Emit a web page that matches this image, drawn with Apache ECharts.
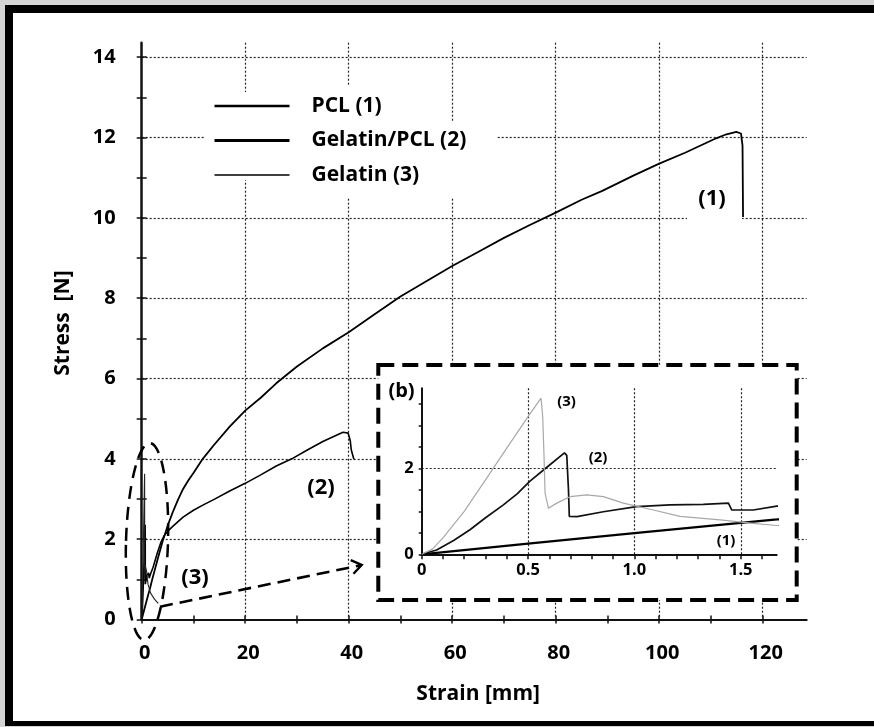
<!DOCTYPE html>
<html><head><meta charset="utf-8">
<script src="https://cdn.jsdelivr.net/npm/echarts@6/dist/echarts.min.js"></script>
<style>
html,body{margin:0;padding:0;background:#d4d4d4;}
#frame{position:absolute;left:5px;top:5px;width:869px;height:721px;box-sizing:border-box;background:#fff;border-top:8px solid #000;border-left:8px solid #000;border-bottom:5px solid #000;}
#chart{position:absolute;left:0;top:0;width:874px;height:727px;}
</style></head><body>
<div id="frame"></div><div id="chart"></div>
<script>
// ---------- data (strain in mm, stress in N) ----------
const seriesNames = ['PCL (1)', 'Gelatin/PCL (2)', 'Gelatin (3)'];

const pclStrain = [0,0.5,1,1.5,1.67,2,3,4,5,6,7,8,9,10,11.8,14,17,20,23,26,30,35,40,45,50,55,60,65,70,75,80,85,89,95,100,105,111,113,114.9,115.8,116.1,116.2];
const pclStress = [0,0.25,0.49,0.73,0.81,0.98,1.46,1.93,2.33,2.67,2.98,3.25,3.46,3.65,4.0,4.35,4.8,5.2,5.52,5.88,6.3,6.75,7.15,7.6,8.04,8.42,8.8,9.15,9.5,9.82,10.13,10.45,10.67,11.05,11.35,11.62,11.98,12.08,12.14,12.1,11.8,10.02];

const gpStrain = [0,0.07,0.15,0.227,0.3,0.384,0.45,0.509,0.59,0.671,0.682,0.69,0.694,0.73,0.854,1.01,1.168,1.324,1.442,1.458,1.559,1.669,2.2,3,3.7,4.4,5.2,6,8,10,12,14,17,20,23,26,29,32,35,37,38.9,39.9,40.3,40.5,41.0];
const gpStress = [0,0.1,0.32,0.57,0.85,1.15,1.41,1.7,2.03,2.36,2.3,1.5,0.88,0.876,0.99,1.11,1.15,1.16,1.19,1.03,1.03,1.12,1.3,1.65,1.92,2.1,2.22,2.32,2.55,2.72,2.86,2.99,3.2,3.39,3.6,3.82,4.0,4.22,4.43,4.55,4.66,4.64,4.45,4.22,3.99];

const gelStrain = [0,0.05,0.1,0.2,0.3,0.4,0.5,0.561,0.569,0.575,0.58,0.596,0.635,0.697,0.776,0.854,0.948,1.089,1.215,1.403,1.559,1.669,2.0,2.5,3.2];
const gelStress = [0,0.12,0.38,1.0,1.73,2.47,3.2,3.63,3.2,2.3,1.42,1.07,1.19,1.34,1.38,1.34,1.19,1.03,0.88,0.8,0.72,0.67,0.6,0.5,0.4];

// ---------- tick values ----------
const mainXTicks = [0,10,20,30,40,50,60,70,80,90,100,110,120];
const mainYTicks = [0,1,2,3,4,5,6,7,8,9,10,11,12,13,14];
const insetXTicks = [0,0.1,0.2,0.3,0.4,0.5,0.6,0.7,0.8,0.9,1.0,1.1,1.2,1.3,1.4,1.5,1.6];
const insetYTicks = [0,0.5,1,1.5,2,2.5,3,3.5];

const pairs = (xs, ys) => xs.map((x, i) => [x, ys[i]]);
const FONT = 'Open Sans';
const INK = '#000';

const chart = echarts.init(document.getElementById('chart'));

const dotted = { type: [2, 2], color: '#222', width: 1.2 };
const labelFont = { fontFamily: FONT, fontWeight: 'bold', color: INK };

function tickAxis(base, values, inside, len, extra) {
  return Object.assign({}, base, {
    axisLine: { show: false },
    axisLabel: { show: false },
    splitLine: { show: false },
    axisTick: { show: true, inside: inside, length: len, customValues: values,
                lineStyle: { color: '#111', width: 1.5 } }
  }, extra || {});
}

const mainX = { type: 'value', gridIndex: 0, min: 0, max: 128.5, position: 'bottom' };
const mainY = { type: 'value', gridIndex: 0, min: 0, max: 14.36, position: 'left' };
const insX = { type: 'value', gridIndex: 1, min: 0, max: 1.669, position: 'bottom', z: 5 };
const insY = { type: 'value', gridIndex: 1, min: 0, max: 3.86, position: 'left', z: 5 };

const hiddenSymbol = { opacity: 0, color: 'transparent', borderWidth: 0 };

const option = {
  animation: false,
  grid: [
    { left: 141.7, top: 42.7, width: 665, height: 576.8 },
    { left: 421.7, top: 388.3, width: 355, height: 166 }
  ],
  legend: {
    left: 213, top: 94, orient: 'vertical', padding: 0,
    itemWidth: 75, itemHeight: 14, itemGap: 10.5, selectedMode: false, z: 7,
    textStyle: { fontFamily: FONT, fontWeight: 'bold', fontSize: 21, color: INK, lineHeight: 24, padding: [0, 0, 0, 17] },
    data: [
      { name: seriesNames[0], itemStyle: hiddenSymbol, lineStyle: { color: INK, width: 2.7 } },
      { name: seriesNames[1], itemStyle: hiddenSymbol, lineStyle: { color: INK, width: 3 } },
      { name: seriesNames[2], itemStyle: hiddenSymbol, lineStyle: { color: INK, width: 1.7 } }
    ]
  },
  xAxis: [
    Object.assign({}, mainX, {
      interval: 20,
      axisLine: { lineStyle: { color: '#111', width: 2 } },
      axisTick: { show: false },
      axisLabel: Object.assign({ fontSize: 20, margin: 24, padding: [0, 0, 0, 6], showMaxLabel: false }, labelFont),
      splitLine: { show: true, lineStyle: dotted, showMinLine: false, showMaxLine: false },
      name: 'Strain [mm]', nameLocation: 'middle', nameGap: 64,
      nameTextStyle: { fontFamily: FONT, fontWeight: 'bold', fontSize: 21, color: INK, padding: [0, 0, 0, 8] }
    }),
    tickAxis(mainX, mainXTicks, false, 4, { interval: 10 }),
    tickAxis(mainX, mainXTicks, true, 4, { interval: 10 }),
    Object.assign({}, insX, {
      interval: 0.5,
      axisLine: { lineStyle: { color: '#111', width: 2 } },
      axisTick: { show: false },
      axisLabel: Object.assign({ fontSize: 16.5, margin: 7, showMaxLabel: false,
        formatter: v => (v === 0 ? '0' : v.toFixed(1)) }, labelFont),
      splitLine: { show: true, lineStyle: dotted, showMinLine: false, showMaxLine: false }
    }),
    tickAxis(insX, insetXTicks, false, 5, { interval: 0.1 })
  ],
  yAxis: [
    Object.assign({}, mainY, {
      interval: 2,
      axisLine: { lineStyle: { color: '#111', width: 2.5 } },
      axisTick: { show: false },
      axisLabel: Object.assign({ fontSize: 20, margin: 26, padding: [18, 0, 0, 0], showMaxLabel: false }, labelFont),
      splitLine: { show: true, lineStyle: dotted, showMinLine: false, showMaxLine: false },
      name: 'Stress  [N]', nameLocation: 'middle', nameGap: 68,
      nameTextStyle: { fontFamily: FONT, fontWeight: 'bold', fontSize: 21, color: INK, padding: [0, 0, 0, 16] }
    }),
    tickAxis(mainY, mainYTicks, false, 5, { interval: 1 }),
    tickAxis(mainY, mainYTicks, true, 5, { interval: 1 }),
    Object.assign({}, insY, {
      interval: 2,
      axisLine: { lineStyle: { color: '#111', width: 2 } },
      axisTick: { show: false },
      axisLabel: Object.assign({ fontSize: 16.5, margin: 8, showMaxLabel: false }, labelFont),
      splitLine: { show: true, lineStyle: dotted, showMinLine: false, showMaxLine: false }
    }),
    tickAxis(insY, insetYTicks, false, 3, { interval: 0.5 })
  ],
  series: [
    { name: seriesNames[0], type: 'line', xAxisIndex: 0, yAxisIndex: 0, symbol: 'none', z: 3, silent: true,
      lineStyle: { color: INK, width: 1.8 }, itemStyle: { color: INK }, data: pairs(pclStrain, pclStress) },
    { name: seriesNames[1], type: 'line', xAxisIndex: 0, yAxisIndex: 0, symbol: 'none', z: 3, silent: true,
      lineStyle: { color: INK, width: 1.6 }, itemStyle: { color: INK }, data: pairs(gpStrain, gpStress) },
    { name: seriesNames[2], type: 'line', xAxisIndex: 0, yAxisIndex: 0, symbol: 'none', z: 3, silent: true,
      lineStyle: { color: '#222', width: 1.1 }, itemStyle: { color: INK }, data: pairs(gelStrain, gelStress) },
    { name: seriesNames[0], type: 'line', xAxisIndex: 3, yAxisIndex: 3, symbol: 'none', z: 6, silent: true,
      lineStyle: { color: INK, width: 2.3 }, data: pairs(pclStrain, pclStress) },
    { name: seriesNames[1], type: 'line', xAxisIndex: 3, yAxisIndex: 3, symbol: 'none', z: 6, silent: true,
      lineStyle: { color: '#111', width: 1.7 }, data: pairs(gpStrain, gpStress) },
    { name: seriesNames[2], type: 'line', xAxisIndex: 3, yAxisIndex: 3, symbol: 'none', z: 6, silent: true,
      lineStyle: { color: '#a8a8a8', width: 1.2 }, data: pairs(gelStrain, gelStress) }
  ],
  graphic: [
    // white masks behind legend and labels
    { type: 'rect', z: 1, silent: true, shape: { x: 205, y: 92, width: 93, height: 88 }, style: { fill: '#fff' } },
    { type: 'rect', z: 1, silent: true, shape: { x: 298, y: 85, width: 102, height: 37 }, style: { fill: '#fff' } },
    { type: 'rect', z: 1, silent: true, shape: { x: 298, y: 122, width: 199, height: 38 }, style: { fill: '#fff' } },
    { type: 'rect', z: 1, silent: true, shape: { x: 298, y: 160, width: 162, height: 37 }, style: { fill: '#fff' } },
    { type: 'rect', z: 1, silent: true, shape: { x: 687, y: 178, width: 55, height: 44 }, style: { fill: '#fff' } },
    { type: 'rect', z: 1, silent: true, shape: { x: 300, y: 467, width: 45, height: 40 }, style: { fill: '#fff' } },
    // inset box
    { type: 'rect', z: 1, silent: true, shape: { x: 378.3, y: 365, width: 418.4, height: 235 },
      style: { fill: '#fff', stroke: '#000', lineWidth: 4, lineDash: [16, 8] } },
    // dashed ellipse around origin
    { type: 'ellipse', z: 4, silent: true, x: 147, y: 541.5, rotation: -0.03,
      shape: { cx: 0, cy: 0, rx: 21, ry: 98.5 },
      style: { fill: 'none', stroke: '#000', lineWidth: 2.5, lineDash: [13, 8] } },
    // dashed arrow to inset
    { type: 'line', z: 4, silent: true, shape: { x1: 160, y1: 606.7, x2: 361, y2: 565.2 },
      style: { stroke: '#000', lineWidth: 2.6, lineDash: [13, 7] } },
    { type: 'polyline', z: 4, silent: true, shape: { points: [[350.7, 560.2], [361.7, 565], [353.5, 573.7]] },
      style: { fill: 'none', stroke: '#000', lineWidth: 2.4 } },
    // annotations
    { type: 'text', z: 7, silent: true, style: { text: '(1)', x: 712, y: 199, align: 'center', verticalAlign: 'middle', font: 'bold 22px "Open Sans"', fill: INK } },
    { type: 'text', z: 7, silent: true, style: { text: '(2)', x: 321, y: 488, align: 'center', verticalAlign: 'middle', font: 'bold 22px "Open Sans"', fill: INK } },
    { type: 'text', z: 7, silent: true, style: { text: '(3)', x: 195, y: 578, align: 'center', verticalAlign: 'middle', font: 'bold 22px "Open Sans"', fill: INK } },
    { type: 'text', z: 7, silent: true, style: { text: '(b)', x: 401.5, y: 391.5, align: 'center', verticalAlign: 'middle', font: 'bold 20px "Open Sans"', fill: INK } },
    { type: 'text', z: 7, silent: true, style: { text: '(3)', x: 566.5, y: 401.5, align: 'center', verticalAlign: 'middle', font: 'bold 15px "Open Sans"', fill: INK } },
    { type: 'text', z: 7, silent: true, style: { text: '(2)', x: 598, y: 458, align: 'center', verticalAlign: 'middle', font: 'bold 15px "Open Sans"', fill: INK } },
    { type: 'text', z: 7, silent: true, style: { text: '(1)', x: 726, y: 540.5, align: 'center', verticalAlign: 'middle', font: 'bold 15px "Open Sans"', fill: INK } }
  ]
};
chart.setOption(option);
</script>
</body></html>
